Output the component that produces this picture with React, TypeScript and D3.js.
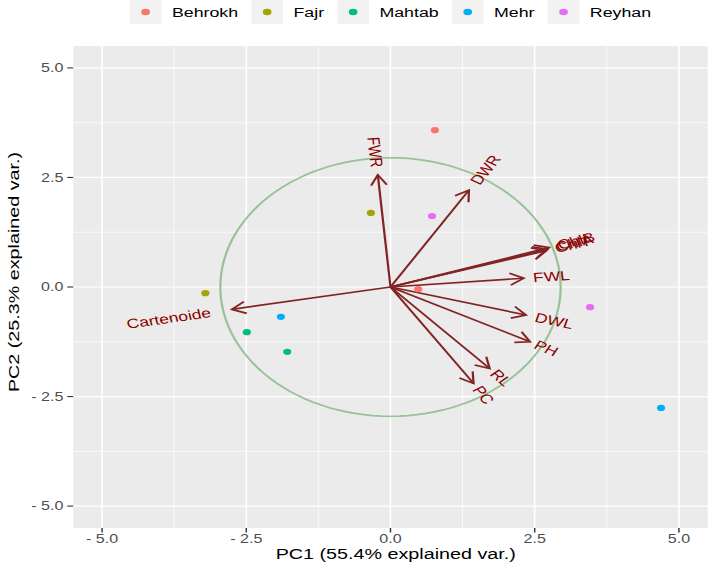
import React from 'react';
import * as d3 from 'd3';

// ---- data ----
const groups = ['Behrokh', 'Fajr', 'Mahtab', 'Mehr', 'Reyhan'];
const groupColors = ['#F8766D', '#A3A500', '#00BF7D', '#00B0F6', '#E76BF3'];

const pointGroup = ['Behrokh', 'Behrokh', 'Fajr', 'Fajr', 'Mahtab', 'Mahtab', 'Mehr', 'Mehr', 'Reyhan', 'Reyhan'];
const pointPC1 = [0.77, 0.48, -0.34, -3.21, -2.49, -1.79, -1.9, 4.69, 0.72, 3.46];
const pointPC2 = [3.58, -0.05, 1.69, -0.14, -1.03, -1.48, -0.68, -2.76, 1.62, -0.46];

const varNames = ['FWR', 'DWR', 'ChlA', 'ChlB', 'ChlT', 'FWL', 'DWL', 'PH', 'RL', 'PC', 'Cartenoide'];
const varPC1 = [-0.22, 1.36, 2.72, 2.75, 2.7, 2.31, 2.35, 2.42, 1.72, 1.44, -2.75];
const varPC2 = [2.56, 2.21, 0.86, 0.9, 0.83, 0.2, -0.64, -1.25, -1.86, -2.2, -0.51];

const circleRadius = 2.95;

const majorTicks = [-5, -2.5, 0, 2.5, 5];
const majorTickLabels = ['- 5.0', '- 2.5', '0.0', '2.5', '5.0'];
const minorTicks = [-3.75, -1.25, 1.25, 3.75];

const xTitle = 'PC1 (55.4% explained var.)';
const yTitle = 'PC2 (25.3% explained var.)';

// ---- layout (unstretched coordinates; whole drawing is stretched horizontally) ----
const W = 708;
const H = 563;
const SX = 1.317;
const FONT = "'Liberation Sans', Arial, Helvetica, sans-serif";

const panelLeft = 55.6;
const panelRight = 537.4;
const panelTop = 46;
const panelBottom = 528;

let ctx: CanvasRenderingContext2D | null = null;
function measure(text: string, size: number): number {
  if (!ctx) {
    const c = document.createElement('canvas');
    ctx = c.getContext('2d');
  }
  if (!ctx) return text.length * size * 0.55;
  ctx.font = `${size}px ${FONT}`;
  return ctx.measureText(text).width;
}

export default function App() {
  const x = d3.scaleLinear().domain([-5.5, 5.5]).range([panelLeft, panelRight]);
  const y = d3.scaleLinear().domain([-5.5, 5.5]).range([panelBottom, panelTop]);

  const circlePts = d3.range(0, 121).map((i) => {
    const t = (i / 120) * 2 * Math.PI;
    return [circleRadius * Math.cos(t), circleRadius * Math.sin(t)] as [number, number];
  });
  const circlePath = d3
    .line<[number, number]>()
    .x((d) => x(d[0]))
    .y((d) => y(d[1]))(circlePts) as string;

  // legend layout
  const keySize = 24;
  const legendFont = 13.5;
  const keyTextGap = 8;
  const itemGap = 10;
  const widths = groups.map((g) => measure(g, legendFont));
  const total = groups.length * (keySize + keyTextGap) + d3.sum(widths) + itemGap * (groups.length - 1);
  let lx = 296.5 - total / 2;
  const legendItems = groups.map((g, i) => {
    const item = { g, color: groupColors[i], x: lx, w: widths[i] };
    lx += keySize + keyTextGap + widths[i] + itemGap;
    return item;
  });

  const arrowColor = '#832424';
  const labelColor = '#8B0000';
  const labelSize = 13.3;
  const headLen = 12;
  const headAngle = (30 * Math.PI) / 180;

  const yTitleCenter = 272;
  const xTitleCenter = 300.5;

  return (
    <svg
      width={W}
      height={H}
      style={{ position: 'absolute', left: 0, top: 0, background: '#fff' }}
      fontFamily={FONT}
    >
      <g transform={`scale(${SX},1)`}>
        {/* panel */}
        <rect x={panelLeft} y={panelTop} width={panelRight - panelLeft} height={panelBottom - panelTop} fill="#EBEBEB" />
        {minorTicks.map((t) => (
          <g key={'mn' + t}>
            <line x1={x(t)} x2={x(t)} y1={panelTop} y2={panelBottom} stroke="#fff" strokeWidth={0.6} />
            <line x1={panelLeft} x2={panelRight} y1={y(t)} y2={y(t)} stroke="#fff" strokeWidth={0.6} />
          </g>
        ))}
        {majorTicks.map((t) => (
          <g key={'mj' + t}>
            <line x1={x(t)} x2={x(t)} y1={panelTop} y2={panelBottom} stroke="#fff" strokeWidth={1.2} />
            <line x1={panelLeft} x2={panelRight} y1={y(t)} y2={y(t)} stroke="#fff" strokeWidth={1.2} />
          </g>
        ))}

        {/* circle */}
        <path d={circlePath} fill="none" stroke="#8FBC8F" strokeWidth={1.7} opacity={0.9} />

        {/* arrows */}
        {varNames.map((n, i) => {
          const x0 = x(0);
          const y0 = y(0);
          const x1 = x(varPC1[i]);
          const y1 = y(varPC2[i]);
          const a = Math.atan2(y1 - y0, x1 - x0);
          const h1x = x1 - headLen * Math.cos(a - headAngle);
          const h1y = y1 - headLen * Math.sin(a - headAngle);
          const h2x = x1 - headLen * Math.cos(a + headAngle);
          const h2y = y1 - headLen * Math.sin(a + headAngle);
          return (
            <g key={'ar' + n} stroke={arrowColor} strokeWidth={1.7} fill="none" strokeLinecap="butt">
              <line x1={x0} y1={y0} x2={x1} y2={y1} />
              <polyline points={`${h1x},${h1y} ${x1},${y1} ${h2x},${h2y}`} />
            </g>
          );
        })}

        {/* arrow labels */}
        {varNames.map((n, i) => {
          const vx = varPC1[i];
          const vy = varPC2[i];
          const angleDeg = (Math.atan(vy / vx) * 180) / Math.PI;
          const hjust = (1 - 1.5 * Math.sign(vx)) / 2;
          const w = measure(n, labelSize);
          const ar = (angleDeg * Math.PI) / 180;
          const ax = x(vx);
          const ay = y(vy);
          const sxp = ax - hjust * w * Math.cos(ar);
          const syp = ay + hjust * w * Math.sin(ar);
          return (
            <text
              key={'lb' + n}
              x={0}
              y={0}
              transform={`translate(${sxp},${syp}) rotate(${-angleDeg})`}
              fontSize={labelSize}
              fill={labelColor}
              dominantBaseline="central"
              textAnchor="start"
            >
              {n}
            </text>
          );
        })}

        {/* points */}
        {pointPC1.map((v, i) => (
          <circle
            key={'pt' + i}
            cx={x(v)}
            cy={y(pointPC2[i])}
            r={3.1}
            fill={groupColors[groups.indexOf(pointGroup[i])]}
          />
        ))}

        {/* axes ticks */}
        {majorTicks.map((t, i) => (
          <g key={'xt' + t}>
            <line x1={x(t)} x2={x(t)} y1={panelBottom} y2={panelBottom + 4.5} stroke="#333" strokeWidth={1.1} />
            <text x={x(t)} y={panelBottom + 15} fontSize={12.2} fill="#4D4D4D" textAnchor="middle">
              {majorTickLabels[i]}
            </text>
            <line x1={panelLeft - 4.5} x2={panelLeft} y1={y(t)} y2={y(t)} stroke="#333" strokeWidth={1.1} />
            <text x={panelLeft - 7.5} y={y(t)} fontSize={12.2} fill="#4D4D4D" textAnchor="end" dominantBaseline="central">
              {majorTickLabels[i]}
            </text>
          </g>
        ))}

        {/* x axis title */}
        <text x={xTitleCenter} y={559.5} fontSize={15} fill="#000" textAnchor="middle">
          {xTitle}
        </text>
      </g>
      {/* y title: drawn like the x title (stretched along its reading direction), then turned */}
      <text
        transform={`translate(14,${yTitleCenter}) rotate(-90) scale(${SX},1)`}
        fontSize={15}
        fill="#000"
        textAnchor="middle"
        dominantBaseline="central"
      >
        {yTitle}
      </text>
      <g transform={`scale(${SX},1)`}>
        {/* legend */}
        {legendItems.map((it) => (
          <g key={'lg' + it.g}>
            <rect x={it.x} y={0} width={keySize} height={keySize} fill="#F2F2F2" />
            <circle cx={it.x + keySize / 2} cy={12} r={3.3} fill={it.color} />
            <text x={it.x + keySize + keyTextGap} y={12} fontSize={legendFont} fill="#000" dominantBaseline="central">
              {it.g}
            </text>
          </g>
        ))}
      </g>
    </svg>
  );
}
